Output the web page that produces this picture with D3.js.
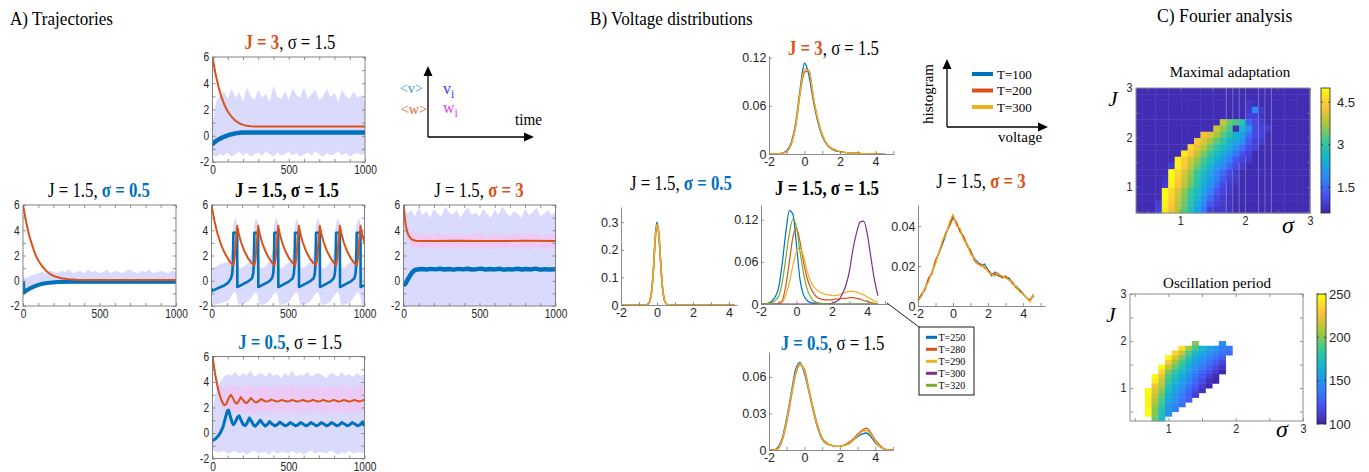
<!DOCTYPE html>
<html><head><meta charset="utf-8">
<script src="https://cdn.jsdelivr.net/npm/d3@7/dist/d3.min.js"></script>
<style>html,body{margin:0;padding:0;background:#fff;}svg{display:block;}</style>
</head><body>
<svg id="fig" width="1369" height="472" xmlns="http://www.w3.org/2000/svg"></svg>
<script>
// ======================= DATA =======================
// ---- Panel A: trajectories (time, value) ----
const trajTicksY = [-2, 0, 2, 4, 6];
const trajTicksX = [0, 500, 1000];
const trajMinorY = [-2, -1, 0, 1, 2, 3, 4, 5, 6];
const trajMinorX = [0, 100, 200, 300, 400, 500, 600, 700, 800, 900, 1000];
const bandT = [0,25,50,75,100,125,150,175,200,225,250,275,300,325,350,375,400,425,450,475,500,525,550,575,600,625,650,675,700,725,750,775,800,825,850,875,900,925,950,975,1000];

// J = 3, sigma = 1.5
const wJ3 = [[0,6],[20,4.7],[40,3.7],[60,2.9],[80,2.3],[100,1.85],[125,1.45],[150,1.15],[175,0.95],[200,0.83],[225,0.76],[250,0.72],[300,0.7],[1000,0.7]];
const vJ3 = [[0,-0.5],[3,-0.6],[25,-0.38],[50,-0.22],[75,-0.08],[100,0.03],[125,0.12],[150,0.18],[175,0.22],[200,0.24],[250,0.25],[1000,0.25]];
const hiJ3 = [1.0,2.6,3.1,3.4,2.8,3.6,2.9,3.3,2.6,3.7,3.0,2.7,3.5,2.9,3.2,2.6,3.8,3.0,2.8,3.4,2.7,3.6,3.1,2.9,3.7,2.8,3.2,3.5,2.7,3.0,3.6,2.9,3.3,2.6,3.5,3.0,2.8,3.4,2.9,3.1,2.5];
const loJ3 = [-1.5,-1.6,-1.4,-1.5,-1.3,-1.6,-1.4,-1.2,-1.5,-1.3,-1.6,-1.4,-1.3,-1.5,-1.2,-1.4,-1.6,-1.3,-1.5,-1.4,-1.2,-1.5,-1.3,-1.6,-1.4,-1.3,-1.5,-1.2,-1.4,-1.6,-1.3,-1.5,-1.4,-1.2,-1.5,-1.3,-1.6,-1.4,-1.3,-1.5,-1.3];

// J = 1.5, sigma = 0.5
const wS05 = [[0,6],[20,4.7],[40,3.6],[60,2.8],[80,2.1],[100,1.6],[125,1.15],[150,0.8],[175,0.55],[200,0.38],[250,0.2],[300,0.11],[350,0.07],[400,0.05],[500,0.05],[1000,0.05]];
const vS05 = [[0,-0.1],[3,-0.95],[25,-0.75],[50,-0.58],[75,-0.45],[100,-0.33],[135,-0.22],[175,-0.15],[225,-0.1],[300,-0.08],[1000,-0.08]];
const hiS05 = [0.3,0.2,0.4,0.5,0.6,0.7,0.6,0.8,0.7,0.6,0.8,0.7,0.9,0.6,0.7,0.8,0.6,0.9,0.7,0.8,0.6,0.7,0.9,0.6,0.8,0.7,0.6,0.8,0.9,0.7,0.6,0.8,0.7,0.9,0.6,0.7,0.8,0.7,0.6,0.8,0.7];
const loS05 = [-1.0,-1.0,-0.75,-0.6,-0.5,-0.4,-0.35,-0.3,-0.3,-0.25,-0.3,-0.25,-0.3,-0.25,-0.3,-0.25,-0.3,-0.25,-0.3,-0.25,-0.3,-0.25,-0.3,-0.25,-0.3,-0.25,-0.3,-0.25,-0.3,-0.25,-0.3,-0.25,-0.3,-0.25,-0.3,-0.25,-0.3,-0.25,-0.3,-0.25,-0.3];

// J = 1.5, sigma = 1.5 (oscillating)
const wMid = [[0,6],[20,4.7],[40,3.7],[60,2.95],[80,2.35],[100,1.9],[120,1.5],[143,1.2],[151,1.75],[158,2.9],[168,4.35],[178,3.75],[193,3.05],[213,2.4],[238,1.8],[263,1.4],[280,1.2],[288,1.75],[295,2.9],[305,4.35],[315,3.75],[330,3.05],[350,2.4],[375,1.8],[398,1.4],[411,1.2],[419,1.75],[426,2.9],[436,4.35],[446,3.75],[461,3.05],[481,2.4],[506,1.8],[531,1.4],[546,1.2],[554,1.75],[561,2.9],[571,4.35],[581,3.75],[596,3.05],[616,2.4],[641,1.8],[666,1.4],[683,1.2],[691,1.75],[698,2.9],[708,4.35],[718,3.75],[733,3.05],[753,2.4],[778,1.8],[801,1.4],[814,1.2],[822,1.75],[829,2.9],[839,4.35],[849,3.75],[864,3.05],[884,2.4],[909,1.8],[934,1.4],[949,1.2],[957,1.75],[964,2.9],[974,4.35],[984,3.75],[1000,3.0]];
const vMid = [[0,-0.6],[4,-0.8],[40,-0.6],[80,-0.4],[110,-0.15],[128,0.2],[136,0.6],[140,1.4],[143,3.8],[168,3.8],[169,-0.5],
  [200,-0.3],[240,-0.05],[265,0.2],[273,0.6],[277,1.4],[280,3.8],[305,3.8],[306,-0.5],
  [337,-0.3],[377,-0.05],[396,0.2],[404,0.6],[408,1.4],[411,3.8],[436,3.8],[437,-0.5],
  [468,-0.3],[508,-0.05],[531,0.2],[539,0.6],[543,1.4],[546,3.8],[571,3.8],[572,-0.5],
  [603,-0.3],[643,-0.05],[668,0.2],[676,0.6],[680,1.4],[683,3.8],[708,3.8],[709,-0.5],
  [740,-0.3],[780,-0.05],[799,0.2],[807,0.6],[811,1.4],[814,3.8],[839,3.8],[840,-0.5],
  [871,-0.3],[911,-0.05],[934,0.2],[942,0.6],[946,1.4],[949,3.8],[974,3.8],[975,-0.5],[1000,-0.35]];
const bandMid = [[0,-1.6,0.8],[10,-1.9,1.0],[30,-1.9,1.1],[55,-1.8,1.3],[80,-1.7,1.4],[108,-1.6,1.5],[125,-1.3,2.0],[135,-1.1,2.6],[141,-1.0,4.3],[150,-0.9,4.8],[160,-1.0,5.0],[166,-1.2,4.6],[170,-1.5,3.8],[175,-1.9,1.1],[195,-1.9,1.0],[220,-1.8,1.2],
  [245,-1.6,1.5],[262,-1.3,2.0],[272,-1.1,2.7],[278,-1.0,4.3],[287,-0.9,4.9],[297,-1.0,4.8],[303,-1.2,4.6],[307,-1.5,3.8],[312,-1.9,1.1],[332,-1.9,1.0],[357,-1.8,1.2],
  [376,-1.6,1.5],[393,-1.3,2.1],[403,-1.1,2.6],[409,-1.0,4.4],[418,-0.9,4.8],[428,-1.0,5.0],[434,-1.2,4.6],[438,-1.5,3.8],[443,-1.9,1.1],[463,-1.9,1.0],[488,-1.8,1.3],
  [511,-1.6,1.5],[528,-1.3,2.0],[538,-1.1,2.6],[544,-1.0,4.3],[553,-0.9,4.9],[563,-1.0,4.8],[569,-1.2,4.6],[573,-1.5,3.8],[578,-1.9,1.1],[598,-1.9,1.0],[623,-1.8,1.2],
  [648,-1.6,1.5],[665,-1.3,2.0],[675,-1.1,2.7],[681,-1.0,4.3],[690,-0.9,4.8],[700,-1.0,5.0],[706,-1.2,4.6],[710,-1.5,3.8],[715,-1.9,1.1],[735,-1.9,1.0],[760,-1.8,1.2],
  [779,-1.6,1.5],[796,-1.3,2.1],[806,-1.1,2.6],[812,-1.0,4.3],[821,-0.9,4.9],[831,-1.0,4.8],[837,-1.2,4.6],[841,-1.5,3.8],[846,-1.9,1.1],[866,-1.9,1.0],[891,-1.8,1.3],
  [914,-1.6,1.5],[931,-1.3,2.0],[941,-1.1,2.6],[947,-1.0,4.4],[956,-0.9,4.8],[966,-1.0,5.0],[972,-1.2,4.6],[976,-1.5,3.8],[981,-1.9,1.1],[1000,-1.9,1.0]];

// J = 1.5, sigma = 3
const wS3 = [[0,6],[8,5.0],[16,4.3],[25,3.85],[35,3.55],[48,3.35],[62,3.22],[80,3.17],[110,3.15],[200,3.14],[350,3.16],[500,3.14],[650,3.15],[800,3.16],[1000,3.15]];
const vS3 = [[0,-0.15],[6,-0.3],[15,-0.2],[30,0.15],[45,0.45],[60,0.7],[75,0.85],[93,0.9],[120,0.93],[150,0.89],[180,0.94],[210,0.9],[240,0.95],[270,0.89],[300,0.93],[330,0.88],[360,0.94],[390,0.9],[420,0.95],[450,0.89],[480,0.92],[510,0.96],[540,0.89],[570,0.93],[600,0.9],[630,0.95],[660,0.88],[690,0.92],[720,0.9],[750,0.95],[780,0.89],[810,0.93],[840,0.9],[870,0.96],[900,0.88],[930,0.92],[960,0.9],[1000,0.92]];
const hiS3 = [6.0,5.3,5.6,5.1,5.8,5.2,5.5,5.0,5.7,5.3,5.1,5.9,5.4,5.2,5.6,5.0,5.5,5.8,5.2,5.4,5.1,5.7,5.3,5.0,5.6,5.2,5.9,5.4,5.1,5.5,5.3,5.0,5.7,5.2,5.4,5.8,5.1,5.3,5.6,5.2,5.5];
const loS3 = [-2.2,-2.2,-2.1,-2.2,-2.2,-2.0,-2.2,-2.2,-2.1,-2.2,-2.2,-2.2,-2.0,-2.2,-2.1,-2.2,-2.2,-2.2,-2.1,-2.2,-2.0,-2.2,-2.2,-2.1,-2.2,-2.2,-2.2,-2.0,-2.2,-2.1,-2.2,-2.2,-2.2,-2.1,-2.2,-2.0,-2.2,-2.2,-2.1,-2.2,-2.2];
const hiWS3 = [6.0,4.3,3.8,3.7,3.6,3.8,3.6,3.7,3.5,3.8,3.6,3.7,3.6,3.5,3.8,3.6,3.7,3.5,3.6,3.8,3.6,3.7,3.5,3.6,3.8,3.6,3.7,3.6,3.5,3.7,3.8,3.6,3.5,3.7,3.6,3.8,3.6,3.5,3.7,3.6,3.7];
const loWS3 = [5.6,3.4,2.8,2.6,2.7,2.6,2.5,2.7,2.6,2.5,2.7,2.6,2.7,2.5,2.6,2.7,2.5,2.6,2.7,2.6,2.5,2.7,2.6,2.5,2.6,2.7,2.5,2.6,2.7,2.6,2.5,2.6,2.7,2.5,2.6,2.7,2.6,2.5,2.7,2.6,2.6];

// J = 0.5, sigma = 1.5
const wJ05 = [[0,6],[15,4.75],[30,3.8],[45,3.05],[60,2.55],[72,2.25],[80,2.17],[92,2.3],[105,2.7],[121,3.0],[135,2.72],[148,2.4],[160,2.3],[172,2.48],[186,2.82],[200,2.6],[213,2.4],[226,2.35],[238,2.5],[252,2.74],[266,2.58],[280,2.42],[292,2.4],[305,2.52],[320,2.67],[336,2.55],[352,2.46],[368,2.5],[388,2.62],[405,2.54],[422,2.47],[438,2.5],[456,2.6],[473,2.53],[490,2.47],[506,2.5],[524,2.6],[541,2.53],[558,2.47],[574,2.5],[592,2.6],[609,2.53],[626,2.47],[642,2.5],[660,2.6],[677,2.53],[694,2.47],[710,2.5],[728,2.6],[745,2.53],[762,2.47],[778,2.5],[796,2.6],[813,2.53],[830,2.47],[846,2.5],[864,2.6],[881,2.53],[898,2.47],[914,2.5],[932,2.6],[949,2.53],[966,2.47],[982,2.52],[1000,2.62]];
const vJ05 = [[0,-0.6],[20,-0.45],[40,-0.2],[55,0.1],[70,0.5],[85,1.2],[97,1.7],[105,1.8],[115,1.4],[128,0.85],[138,0.66],[150,0.85],[165,1.25],[175,1.35],[188,1.0],[202,0.65],[215,0.58],[228,0.8],[243,1.18],[258,0.9],[270,0.62],[281,0.53],[296,0.72],[314,1.0],[330,0.75],[346,0.55],[360,0.65],[375,0.9],[392,0.7],[410,0.56],[426,0.66],[443,0.85],[460,0.7],[478,0.56],[494,0.64],[511,0.82],[528,0.7],[546,0.56],[562,0.64],[579,0.82],[596,0.7],[614,0.56],[630,0.64],[647,0.82],[664,0.7],[682,0.56],[698,0.64],[715,0.82],[732,0.7],[750,0.56],[766,0.64],[783,0.82],[800,0.7],[818,0.56],[834,0.64],[851,0.82],[868,0.7],[886,0.56],[902,0.64],[919,0.82],[936,0.7],[954,0.56],[970,0.64],[987,0.85],[1000,0.55]];
const hiJ05 = [2.0,3.2,4.0,4.4,4.6,4.5,4.8,4.4,4.7,4.5,4.9,4.4,4.6,4.7,4.4,4.8,4.5,4.6,4.3,4.7,4.5,4.9,4.4,4.6,4.5,4.8,4.4,4.6,4.7,4.5,4.3,4.7,4.6,4.4,4.8,4.5,4.6,4.4,4.7,4.5,4.6];
const loJ05 = [-1.3,-1.5,-1.5,-1.4,-1.6,-1.5,-1.4,-1.6,-1.5,-1.7,-1.5,-1.4,-1.6,-1.5,-1.5,-1.7,-1.4,-1.6,-1.5,-1.5,-1.6,-1.4,-1.6,-1.5,-1.7,-1.5,-1.4,-1.6,-1.5,-1.5,-1.6,-1.4,-1.5,-1.7,-1.5,-1.6,-1.4,-1.6,-1.5,-1.5,-1.6];
const hiWJ05 = [6.0,4.6,3.6,3.5,3.7,3.6,3.8,3.5,3.7,3.6,3.9,3.5,3.7,3.6,3.8,3.5,3.6,3.8,3.5,3.7,3.6,3.9,3.5,3.7,3.6,3.8,3.5,3.6,3.7,3.5,3.8,3.6,3.7,3.5,3.8,3.6,3.7,3.5,3.6,3.8,3.6];
const loWJ05 = [5.6,3.6,2.4,1.6,1.5,1.7,1.6,1.7,1.5,1.6,1.7,1.5,1.6,1.7,1.5,1.6,1.7,1.5,1.6,1.7,1.5,1.6,1.7,1.5,1.6,1.7,1.5,1.6,1.7,1.5,1.6,1.7,1.5,1.6,1.7,1.5,1.6,1.7,1.5,1.6,1.7];

// ---- Panel B: voltage histograms ----
const distMinorX = [-2, -1, 0, 1, 2, 3, 4, 5];
const distTicksX = [-2, 0, 2, 4];
const vTop = [-2,-1.75,-1.5,-1.25,-1,-0.75,-0.5,-0.25,0,0.25,0.5,0.75,1,1.25,1.5,1.75,2,2.25,2.5,2.75,3,3.25,3.5,3.75,4,4.25,4.5];
const top100 = [0,0,0,0.001,0.004,0.014,0.038,0.08,0.113,0.098,0.066,0.04,0.022,0.012,0.007,0.004,0.003,0.002,0.0015,0.001,0.001,0.0005,0.0005,0,0,0,0];
const top200 = [0,0,0,0.001,0.003,0.012,0.034,0.075,0.102,0.104,0.07,0.043,0.024,0.013,0.007,0.005,0.003,0.002,0.0015,0.001,0.001,0.0005,0.0005,0,0,0,0];
const top300 = [0,0,0,0.001,0.003,0.012,0.035,0.076,0.106,0.103,0.071,0.043,0.024,0.013,0.008,0.005,0.003,0.002,0.0015,0.001,0.001,0.0005,0.0005,0,0,0,0];

const vS05d = [-2,-1,-0.6,-0.5,-0.4,-0.3,-0.2,-0.1,0,0.1,0.2,0.3,0.4,0.5,0.6,1,2,3,4,4.3];
const s05_100 = [0,0,0,0.003,0.015,0.05,0.13,0.245,0.3,0.255,0.155,0.065,0.02,0.005,0.001,0,0,0,0,0];
const s05_200 = [0,0,0,0.002,0.012,0.045,0.12,0.23,0.29,0.265,0.165,0.07,0.022,0.006,0.001,0,0,0,0,0];
const s05_300 = [0,0,0,0.002,0.013,0.046,0.122,0.235,0.292,0.262,0.16,0.068,0.021,0.005,0.001,0,0,0,0,0];

const vMidD = [-2,-1.8,-1.6,-1.4,-1.2,-1,-0.8,-0.6,-0.4,-0.2,0,0.2,0.4,0.6,0.8,1,1.2,1.4,1.6,1.8,2,2.2,2.4,2.6,2.8,3,3.2,3.4,3.6,3.8,4,4.2,4.4,4.6];
const mid250 = [0,0,0.001,0.004,0.01,0.024,0.058,0.102,0.133,0.128,0.085,0.035,0.013,0.005,0.002,0.001,0,0,0,0,0,0,0,0,0,0,0,0,0,0,0,0,0,0];
const mid280 = [0,0,0,0,0,0.001,0.005,0.026,0.06,0.095,0.108,0.089,0.06,0.037,0.023,0.014,0.009,0.007,0.006,0.006,0.006,0.007,0.007,0.008,0.008,0.009,0.009,0.008,0.007,0.005,0.004,0.002,0.001,0];
const mid290 = [0,0,0,0,0,0,0.002,0.013,0.03,0.055,0.074,0.08,0.068,0.047,0.032,0.024,0.019,0.016,0.014,0.013,0.012,0.012,0.013,0.015,0.017,0.018,0.018,0.017,0.015,0.013,0.01,0.007,0.004,0.003];
const mid300 = [0,0,0,0,0,0,0,0,0,0,0,0,0,0,0,0,0,0,0,0,0.001,0.003,0.006,0.015,0.027,0.048,0.079,0.102,0.117,0.118,0.1,0.067,0.035,0.012];
const mid320 = [0,0,0.001,0.002,0.005,0.011,0.031,0.065,0.1,0.121,0.11,0.075,0.044,0.022,0.01,0.004,0.002,0.001,0,0,0,0,0,0,0,0,0,0,0,0,0,0,0,0];

const vS3d = [-2,-1.8,-1.6,-1.4,-1.2,-1,-0.8,-0.6,-0.4,-0.2,0,0.2,0.4,0.6,0.8,1,1.2,1.4,1.6,1.8,2,2.2,2.4,2.6,2.8,3,3.2,3.4,3.6,3.8,4,4.2,4.4,4.6];
const s3_100 = [0.003,0.005,0.009,0.013,0.017,0.022,0.027,0.031,0.036,0.041,0.045,0.041,0.038,0.034,0.031,0.027,0.024,0.022,0.02,0.021,0.018,0.016,0.016,0.015,0.015,0.014,0.014,0.011,0.01,0.008,0.006,0.004,0.003,0.005];
const s3_200 = [0.003,0.006,0.008,0.014,0.016,0.023,0.026,0.032,0.037,0.04,0.044,0.042,0.037,0.035,0.03,0.028,0.023,0.021,0.021,0.019,0.018,0.015,0.017,0.016,0.014,0.015,0.013,0.012,0.009,0.008,0.006,0.004,0.003,0.006];
const s3_300 = [0.002,0.005,0.009,0.012,0.017,0.021,0.027,0.033,0.036,0.042,0.046,0.04,0.039,0.033,0.031,0.026,0.024,0.021,0.02,0.02,0.017,0.016,0.015,0.016,0.015,0.014,0.013,0.011,0.01,0.007,0.006,0.004,0.002,0.006];

const vBot = [-2,-1.75,-1.5,-1.25,-1,-0.75,-0.5,-0.25,0,0.25,0.5,0.75,1,1.25,1.5,1.75,2,2.25,2.5,2.75,3,3.25,3.5,3.75,4,4.25,4.5,4.75,5];
const bot100 = [0,0,0.002,0.01,0.026,0.046,0.066,0.072,0.063,0.048,0.032,0.018,0.009,0.005,0.004,0.003,0.003,0.004,0.005,0.008,0.011,0.013,0.014,0.011,0.006,0.003,0.001,0,0];
const bot200 = [0,0,0.001,0.008,0.023,0.043,0.062,0.07,0.066,0.05,0.034,0.02,0.01,0.006,0.004,0.003,0.003,0.004,0.006,0.009,0.013,0.016,0.018,0.014,0.008,0.004,0.001,0,0];
const bot300 = [0,0,0.001,0.009,0.024,0.044,0.063,0.071,0.065,0.049,0.033,0.019,0.01,0.005,0.004,0.003,0.003,0.004,0.005,0.008,0.012,0.015,0.016,0.013,0.007,0.003,0.001,0,0];

const legendT1 = ['T=100', 'T=200', 'T=300'];
const legendT2 = ['T=250', 'T=280', 'T=290', 'T=300', 'T=320'];

// ---- Panel C: Fourier analysis heat maps ----
// Maximal adaptation: 20 rows (top -> bottom) x 27 sigma columns
const adaptValues = [
 [.7,.7,.7,.7,.7,.7,.7,.7,.7, .7,.7,.7,.7,.7,.7,.7,.7,.7, .7,.7,.7,.7,.7,.7,.7,.7,.7],
 [.7,.7,.7,.7,.7,.7,.7,.7,.7, .7,.7,.7,.7,.7,.7,.7,.7,.7, .7,.7,.7,.7,.7,.7,.7,.7,.7],
 [.7,.7,.7,.7,.7,.7,.7,.7,.7, .7,.7,.7,.7,.7,.7,.7,.7,.85, .7,.7,.7,.7,.7,.7,.7,.7,.7],
 [.7,.7,.7,.7,.7,.7,.7,.7,.7, .7,.7,.7,.7,.7,.7,.7,.7,.9, 1.9,.9,.7,.7,.7,.7,.7,.7,.7],
 [.7,.7,.7,.7,.7,.7,.7,.7,.7, .7,.7,.7,.7,.7,.7,.7,.7,1.0, 1.0,.8,.7,.7,.7,.7,.7,.7,.7],
 [.7,.7,.7,.7,.7,.7,.7,.7,.7, .7,.7,.7,.7,3.9,3.4,3.2,2.9,1.4, 1.1,.9,.7,.7,.7,.7,.7,.7,.7],
 [.7,.7,.7,.7,.7,.7,.7,.7,.7, .7,.7,.7,4.0,3.6,3.2,.7,2.6,2.0, 1.1,1.0,.9,.7,.7,.7,.7,.7,.7],
 [.7,.7,.7,.7,.7,.7,.7,.7,.7, .7,4.3,4.1,3.7,3.3,2.9,2.5,2.2,1.6, 1.1,1.0,.7,.7,.7,.7,.7,.7,.7],
 [.7,.7,.7,.7,.7,.7,.7,.7,.7, 4.4,4.1,3.7,3.3,3.0,2.6,2.3,2.0,1.3, 1.0,.9,.7,.7,.7,.7,.7,.7,.7],
 [.7,.7,.7,.7,.7,.7,.7,.7,4.6, 4.2,3.8,3.4,3.0,2.7,2.4,2.0,1.6,1.1, 1.0,.7,.7,.7,.7,.7,.7,.7,.7],
 [.7,.7,.7,.7,.7,.7,.7,4.8,4.4, 3.9,3.5,3.1,2.7,2.4,2.1,1.7,1.2,1.0, .7,.7,.7,.7,.7,.7,.7,.7,.7],
 [.7,.7,.7,.7,.7,.7,4.9,4.5,4.0, 3.6,3.2,2.8,2.5,2.1,1.8,1.3,1.0,.9, .7,.7,.7,.7,.7,.7,.7,.7,.7],
 [.7,.7,.7,.7,.7,.9,4.9,4.4,3.9, 3.4,3.0,2.6,2.2,1.9,1.5,1.1,.9,.7, .7,.7,.7,.7,.7,.7,.7,.7,.7],
 [.7,.7,.7,.7,.7,5.0,4.6,4.1,3.6, 3.1,2.7,2.3,1.9,1.5,1.1,.9,.7,.7, .7,.7,.7,.7,.7,.7,.7,.7,.7],
 [.7,.7,.7,.7,.8,5.0,4.5,4.0,3.5, 3.0,2.6,2.2,1.8,1.3,1.0,.9,.7,.7, .7,.7,.7,.7,.7,.7,.7,.7,.7],
 [.7,.7,.7,.7,.9,4.9,4.4,3.9,3.4, 2.9,2.5,2.0,1.6,1.1,.9,.8,.7,.7, .7,.7,.7,.7,.7,.7,.7,.7,.7],
 [.7,.7,.7,.7,5.0,4.6,4.1,3.6,3.1, 2.7,2.3,1.8,1.3,1.0,.9,.7,.7,.7, .7,.7,.7,.7,.7,.7,.7,.7,.7],
 [.7,.7,.7,.7,5.0,4.5,4.0,3.5,3.0, 2.6,2.1,1.6,1.1,.9,.8,.7,.7,.7, .7,.7,.7,.7,.7,.7,.7,.7,.7],
 [.7,.7,.7,.9,4.9,4.4,3.9,3.4,2.9, 2.4,1.9,1.3,1.0,.9,.8,.7,.7,.7, .7,.7,.7,.7,.7,.7,.7,.7,.7],
 [.7,.7,.7,1.0,4.8,4.3,3.8,3.3,2.8, 2.3,1.7,1.0,.9,.9,.8,.7,.7,.7, .7,.7,.7,.7,.7,.7,.7,.7,.7]
];
const adaptStreakCols = [14, 15, 16, 17, 19, 20, 21];
const adaptCbTicks = [1.5, 3, 4.5];

// Oscillation period: rows J (top -> bottom) x columns sigma
const periodSigma = [0.7,0.8,0.9,1.0,1.1,1.2,1.3,1.4,1.5,1.6,1.7,1.8,1.9];
const periodJ = [1.95,1.85,1.75,1.65,1.55,1.45,1.35,1.25,1.15,1.05,0.95,0.85,0.75,0.65,0.55,0.45,0.35];
const N = null;
const periodValues = [
 [N,N,N,N,N,N,N,200,N,N,N,148,N],
 [N,N,N,N,N,240,205,188,170,158,150,140,138],
 [N,N,N,N,235,215,190,172,160,150,142,134,132],
 [N,N,N,250,220,200,178,162,150,142,135,126,N],
 [N,N,N,230,205,188,170,155,144,135,126,116,N],
 [N,N,250,215,195,178,162,148,138,128,118,108,N],
 [N,N,235,200,183,170,155,142,130,120,110,102,N],
 [N,250,225,190,175,162,148,136,124,112,104,N,N],
 [N,245,215,185,168,156,142,130,118,106,100,N,N],
 [N,225,210,178,162,150,137,124,112,102,N,N,N],
 [250,220,200,172,157,145,132,118,106,N,N,N,N],
 [250,215,195,166,152,140,128,112,N,N,N,N,N],
 [245,210,190,160,147,136,125,N,N,N,N,N,N],
 [245,205,185,155,143,132,N,N,N,N,N,N,N],
 [250,200,180,152,140,N,N,N,N,N,N,N,N],
 [250,200,175,148,N,N,N,N,N,N,N,N,N],
 [N,195,172,N,N,N,N,N,N,N,N,N,N]
];
const periodCbTicks = [100, 150, 200, 250];
const heatTicks = [0.5, 1, 1.5, 2, 2.5, 3];
const heatLabels = [1, 2, 3];

// ======================= DRAWING =======================
const svg = d3.select('#fig');
const SERIF = "'Liberation Serif','Times New Roman',Times,serif";
const SANS = "'Liberation Sans',Arial,Helvetica,sans-serif";
const C_BLUE = '#0072BD', C_ORANGE = '#D95319', C_YELLOW = '#EDB120', C_PURPLE = '#7E2F8E', C_GREEN = '#77AC30';
const LAV = '#dadafd', PINK = '#f7c2f0';
const AX = '#767676', TXT = '#262626';
const PARULA = ['#3e26a8','#4852f4','#2d87f7','#12b1d6','#37c897','#abc739','#fec338','#f9fb14'];
const parula = d3.piecewise(d3.interpolateRgb, PARULA);

function rich(parent, x, y, parts, size, sx, anchor) {
  const t = parent.append('text')
    .attr('transform', `translate(${x},${y}) scale(${sx},1)`)
    .attr('text-anchor', anchor || 'middle')
    .attr('font-family', SERIF).attr('font-size', size);
  parts.forEach(p => t.append('tspan').text(p.t)
    .attr('font-weight', p.b ? 'bold' : 'normal').attr('fill', p.c || '#000'));
  return t;
}
function titleParts(J, s, hi, col) {
  if (hi === 'J') return [{t: `J = ${J}`, b: 1, c: col}, {t: `, σ = ${s}`}];
  if (hi === 's') return [{t: `J = ${J}, `}, {t: `σ = ${s}`, b: 1, c: col}];
  return [{t: `J = ${J}, σ = ${s}`, b: 1}];
}
function styleAxis(sel, fs, sx, keepDomain, domCol) {
  if (keepDomain) sel.select('.domain').attr('stroke', domCol).attr('stroke-width', 1);
  else sel.select('.domain').remove();
  sel.selectAll('.tick line').attr('stroke', AX).attr('stroke-width', 0.8);
  const tx = sel.selectAll('.tick text').attr('font-family', SANS).attr('font-size', fs).attr('fill', TXT);
  if (sx && sx !== 1) tx.attr('transform', `scale(${sx},1)`);
}
const zipBand = (t, lo, hi) => t.map((v, i) => ({t: v, lo: lo[i], hi: hi[i]}));

// ---------- Panel headers ----------
rich(svg, 10, 25, [{t: 'A) Trajectories'}], 19, 0.9, 'start');
rich(svg, 590, 25, [{t: 'B) Voltage distributions'}], 19, 0.9, 'start');
rich(svg, 1157, 22, [{t: 'C) Fourier analysis'}], 19, 0.93, 'start');

// ---------- Panel A ----------
function trajPlot(cfg) {
  const {id, X, Y, W, H} = cfg;
  const g = svg.append('g').attr('transform', `translate(${X},${Y})`);
  const x = d3.scaleLinear().domain([0, 1000]).range([0, W]);
  const y = d3.scaleLinear().domain([-2, 6]).range([H, 0]);
  g.append('clipPath').attr('id', id).append('rect').attr('width', W).attr('height', H);
  const body = g.append('g').attr('clip-path', `url(#${id})`);
  const area = d3.area().x(d => x(d.t)).y0(d => y(d.lo)).y1(d => y(d.hi));
  (cfg.bands || []).forEach(b => body.append('path').datum(b.pts).attr('d', area)
    .attr('fill', b.color).attr('opacity', b.op || 1));
  const line = d3.line().x(d => x(d[0])).y(d => y(d[1]));
  body.append('path').datum(cfg.v).attr('d', line).attr('fill', 'none')
    .attr('stroke', C_BLUE).attr('stroke-width', cfg.vw).attr('stroke-linejoin', 'round');
  body.append('path').datum(cfg.w).attr('d', line).attr('fill', 'none')
    .attr('stroke', C_ORANGE).attr('stroke-width', 2).attr('stroke-linejoin', 'round');
  const ya = g.append('g').call(d3.axisLeft(y).tickValues(trajMinorY).tickSize(-3).tickSizeOuter(0).tickPadding(4)
    .tickFormat(v => trajTicksY.includes(v) ? String(v) : ''));
  styleAxis(ya, 12, 0.85);
  const xa = g.append('g').attr('transform', `translate(0,${H})`).call(d3.axisBottom(x).tickValues(trajMinorX)
    .tickSize(-3).tickSizeOuter(0).tickPadding(3.5).tickFormat(v => trajTicksX.includes(v) ? String(v) : ''));
  styleAxis(xa, 12, 0.85);
  const ra = g.append('g').attr('transform', `translate(${W},0)`).call(d3.axisRight(y).tickValues(trajMinorY).tickSize(-3).tickSizeOuter(0).tickFormat(''));
  styleAxis(ra, 12, 1);
  const ta = g.append('g').call(d3.axisTop(x).tickValues(trajMinorX).tickSize(-3).tickSizeOuter(0).tickFormat(''));
  styleAxis(ta, 12, 1);
  g.append('rect').attr('width', W).attr('height', H).attr('fill', 'none').attr('stroke', AX).attr('stroke-width', 0.9);
  rich(svg, cfg.tx, cfg.ty, cfg.title, 21, 0.8);
}

trajPlot({id: 'cJ3', X: 212.5, Y: 57, W: 152.5, H: 105, w: wJ3, v: vJ3, vw: 4.5,
  bands: [{pts: zipBand(bandT, loJ3, hiJ3), color: LAV}],
  tx: 290, ty: 49, title: titleParts('3', '1.5', 'J', C_ORANGE)});
trajPlot({id: 'cS05', X: 23, Y: 205, W: 153, H: 101, w: wS05, v: vS05, vw: 4,
  bands: [{pts: zipBand(bandT, loS05, hiS05), color: LAV}],
  tx: 99, ty: 197, title: titleParts('1.5', '0.5', 's', C_BLUE)});
trajPlot({id: 'cMid', X: 211.5, Y: 205, W: 153, H: 101, w: wMid, v: vMid, vw: 2.6,
  bands: [{pts: bandMid.map(d => ({t: d[0], lo: d[1], hi: d[2]})), color: LAV}],
  tx: 287, ty: 197, title: titleParts('1.5', '1.5', 'both')});
trajPlot({id: 'cS3', X: 403.5, Y: 205, W: 152, H: 101, w: wS3, v: vS3, vw: 4.5,
  bands: [{pts: zipBand(bandT, loS3, hiS3), color: LAV}, {pts: zipBand(bandT, loWS3, hiWS3), color: PINK, op: 0.75}],
  tx: 479, ty: 197, title: titleParts('1.5', '3', 's', C_ORANGE)});
trajPlot({id: 'cJ05', X: 212.5, Y: 356.5, W: 152, H: 102, w: wJ05, v: vJ05, vw: 3,
  bands: [{pts: zipBand(bandT, loJ05, hiJ05), color: LAV}, {pts: zipBand(bandT, loWJ05, hiWJ05), color: PINK, op: 0.6}],
  tx: 290, ty: 349, title: titleParts('0.5', '1.5', 'J', C_BLUE)});

// arrow-diagram legend (A)
function arrowAxes(ox, oy, tipY, tipX) {
  const g = svg.append('g');
  g.append('line').attr('x1', ox).attr('y1', oy).attr('x2', ox).attr('y2', tipY + 8).attr('stroke', '#000').attr('stroke-width', 1.3);
  g.append('line').attr('x1', ox).attr('y1', oy).attr('x2', tipX - 8).attr('y2', oy).attr('stroke', '#000').attr('stroke-width', 1.3);
  g.append('path').attr('d', `M${ox},${tipY} L${ox - 4.5},${tipY + 10} L${ox + 4.5},${tipY + 10} Z`).attr('fill', '#000');
  g.append('path').attr('d', `M${tipX},${oy} L${tipX - 10},${oy - 4.5} L${tipX - 10},${oy + 4.5} Z`).attr('fill', '#000');
  return g;
}
arrowAxes(428, 137, 66, 534);
rich(svg, 423, 93, [{t: '<v>', c: '#3a93d6'}], 15, 0.95, 'end');
rich(svg, 427, 114, [{t: '<w>', c: '#e0632c'}], 15, 0.95, 'end');
{
  const t1 = svg.append('text').attr('x', 443).attr('y', 94).attr('font-family', SERIF).attr('font-size', 16).attr('fill', '#3c3cf2');
  t1.append('tspan').text('v');
  t1.append('tspan').text('i').attr('font-size', 12).attr('dy', 4);
  const t2 = svg.append('text').attr('x', 443).attr('y', 113).attr('font-family', SERIF).attr('font-size', 16).attr('fill', '#e03ee6');
  t2.append('tspan').text('w');
  t2.append('tspan').text('i').attr('font-size', 12).attr('dy', 4);
}
rich(svg, 515, 125, [{t: 'time'}], 16, 0.95, 'start');

// ---------- Panel B ----------
function distPlot(cfg) {
  const {X, Y, W, H, xd, yd, yt} = cfg;
  const g = svg.append('g').attr('transform', `translate(${X},${Y})`);
  const x = d3.scaleLinear().domain(xd).range([0, W]);
  const y = d3.scaleLinear().domain(yd).range([H, 0]);
  const line = d3.line().curve(cfg.curve).x(d => x(d[0])).y(d => y(d[1]));
  cfg.series.forEach(s => g.append('path').datum(s.y.map((v, i) => [s.x[i], v])).attr('d', line)
    .attr('fill', 'none').attr('stroke', s.c).attr('stroke-width', cfg.lw).attr('stroke-linejoin', 'round'));
  const xa = g.append('g').attr('transform', `translate(0,${H})`).call(d3.axisBottom(x)
    .tickValues(distMinorX.filter(v => v <= xd[1])).tickSize(-3).tickSizeOuter(0).tickPadding(3.5)
    .tickFormat(v => distTicksX.includes(v) ? String(v) : ''));
  styleAxis(xa, 12.5, 1, true, '#8a8a8a');
  const ya = g.append('g').call(d3.axisLeft(y).tickValues(yt).tickSize(-3).tickSizeOuter(0).tickPadding(2.5)
    .tickFormat(v => String(v)));
  styleAxis(ya, 12.5, 1, true, '#8a8a8a');
  rich(svg, cfg.tx, cfg.ty, cfg.title, 21, 0.8);
  return {g, x, y};
}
distPlot({X: 769, Y: 56, W: 125, H: 98, xd: [-2, 5.04], yd: [0, 0.122], yt: [0, 0.06, 0.12], lw: 1.4,
  curve: d3.curveMonotoneX,
  series: [{x: vTop, y: top100, c: C_BLUE}, {x: vTop, y: top200, c: C_ORANGE}, {x: vTop, y: top300, c: C_YELLOW}],
  tx: 833.5, ty: 55, title: titleParts('3', '1.5', 'J', C_ORANGE)});
distPlot({X: 621, Y: 207, W: 116, H: 98, xd: [-2, 4.45], yd: [0, 0.355], yt: [0, 0.1, 0.2, 0.3], lw: 1.5,
  curve: d3.curveMonotoneX,
  series: [{x: vS05d, y: s05_100, c: C_BLUE}, {x: vS05d, y: s05_200, c: C_ORANGE}, {x: vS05d, y: s05_300, c: C_YELLOW}],
  tx: 681, ty: 190, title: titleParts('1.5', '0.5', 's', C_BLUE)});
distPlot({X: 761, Y: 205, W: 127, H: 99, xd: [-2, 5.17], yd: [0, 0.141], yt: [0, 0.06, 0.12], lw: 1.2,
  curve: d3.curveMonotoneX,
  series: [{x: vMidD, y: mid250, c: C_BLUE}, {x: vMidD, y: mid280, c: C_ORANGE}, {x: vMidD, y: mid290, c: C_YELLOW},
           {x: vMidD, y: mid300, c: C_PURPLE}, {x: vMidD, y: mid320, c: C_GREEN}],
  tx: 827, ty: 195, title: titleParts('1.5', '1.5', 'both')});
distPlot({X: 918, Y: 205, W: 127, H: 101, xd: [-2, 5.25], yd: [0, 0.0505], yt: [0, 0.02, 0.04], lw: 1.3,
  curve: d3.curveLinear,
  series: [{x: vS3d, y: s3_100, c: C_BLUE}, {x: vS3d, y: s3_200, c: C_ORANGE}, {x: vS3d, y: s3_300, c: C_YELLOW}],
  tx: 981, ty: 188, title: titleParts('1.5', '3', 's', C_ORANGE)});
distPlot({X: 769, Y: 352, W: 124, H: 98, xd: [-2, 5.0], yd: [0, 0.0805], yt: [0, 0.03, 0.06], lw: 1.4,
  curve: d3.curveMonotoneX,
  series: [{x: vBot, y: bot100, c: C_BLUE}, {x: vBot, y: bot200, c: C_ORANGE}, {x: vBot, y: bot300, c: C_YELLOW}],
  tx: 832.5, ty: 350, title: titleParts('0.5', '1.5', 'J', C_BLUE)});

// B legend (T=100..300) with arrow axes
arrowAxes(947, 127, 59, 1048);
svg.append('text').attr('transform', 'translate(933,94) rotate(-90)').attr('text-anchor', 'middle')
  .attr('font-family', SERIF).attr('font-size', 15).text('histogram');
rich(svg, 1020, 142, [{t: 'voltage'}], 15, 1, 'middle');
[C_BLUE, C_ORANGE, C_YELLOW].forEach((c, i) => {
  const yy = [74, 90.5, 107][i];
  svg.append('line').attr('x1', 972).attr('x2', 993).attr('y1', yy).attr('y2', yy).attr('stroke', c).attr('stroke-width', 4);
  svg.append('text').attr('x', 997).attr('y', yy + 4.5).attr('font-family', SERIF).attr('font-size', 13).text(legendT1[i]);
});
// B legend box for middle histogram
svg.append('line').attr('x1', 887).attr('y1', 303).attr('x2', 919).attr('y2', 327).attr('stroke', '#000').attr('stroke-width', 0.9);
svg.append('rect').attr('x', 919).attr('y', 327).attr('width', 55).attr('height', 68).attr('fill', '#fff').attr('stroke', '#000').attr('stroke-width', 0.9);
[C_BLUE, C_ORANGE, C_YELLOW, C_PURPLE, C_GREEN].forEach((c, i) => {
  const yy = 337.3 + i * 12;
  svg.append('line').attr('x1', 926).attr('x2', 937).attr('y1', yy).attr('y2', yy).attr('stroke', c).attr('stroke-width', 3);
  svg.append('text').attr('x', 938.5).attr('y', yy + 3.5).attr('font-family', SERIF).attr('font-size', 10).text(legendT2[i]);
});

// ---------- Panel C ----------
const defs = svg.append('defs');
const grad = defs.append('linearGradient').attr('id', 'parulaGrad').attr('x1', 0).attr('y1', 1).attr('x2', 0).attr('y2', 0);
PARULA.forEach((c, i) => grad.append('stop').attr('offset', i / (PARULA.length - 1)).attr('stop-color', c));

function heatFrame(g, x, y, X0, X1, Y0, Y1) {
  const la = g.append('g').attr('transform', `translate(${X0},0)`).call(d3.axisLeft(y).tickValues(heatTicks).tickSize(-3).tickSizeOuter(0).tickPadding(4)
    .tickFormat(v => heatLabels.includes(v) ? String(v) : ''));
  styleAxis(la, 12, 0.9);
  const ba = g.append('g').attr('transform', `translate(0,${Y1})`).call(d3.axisBottom(x).tickValues(heatTicks.filter(v => v >= x.domain()[0])).tickSize(-3).tickSizeOuter(0).tickPadding(3)
    .tickFormat(v => heatLabels.includes(v) ? String(v) : ''));
  styleAxis(ba, 12, 0.9);
  const ra = g.append('g').attr('transform', `translate(${X1},0)`).call(d3.axisRight(y).tickValues(heatTicks).tickSize(-3).tickSizeOuter(0).tickFormat(''));
  styleAxis(ra, 12, 1);
  const ta = g.append('g').attr('transform', `translate(0,${Y0})`).call(d3.axisTop(x).tickValues(heatTicks.filter(v => v >= x.domain()[0])).tickSize(-3).tickSizeOuter(0).tickFormat(''));
  styleAxis(ta, 12, 1);
  g.append('rect').attr('x', X0).attr('y', Y0).attr('width', X1 - X0).attr('height', Y1 - Y0)
    .attr('fill', 'none').attr('stroke', '#8c8c8c').attr('stroke-width', 1);
}
function colorbar(g, X, Y, W, H, dom, ticks, lx) {
  const s = d3.scaleLinear().domain(dom).range([Y + H, Y]);
  g.append('rect').attr('x', X).attr('y', Y).attr('width', W).attr('height', H).attr('fill', 'url(#parulaGrad)')
    .attr('stroke', '#262626').attr('stroke-width', 0.8);
  ticks.forEach(t => {
    g.append('line').attr('x1', X).attr('x2', X + 2).attr('y1', s(t)).attr('y2', s(t)).attr('stroke', '#262626').attr('stroke-width', 0.7);
    g.append('line').attr('x1', X + W - 2).attr('x2', X + W).attr('y1', s(t)).attr('y2', s(t)).attr('stroke', '#262626').attr('stroke-width', 0.7);
    g.append('text').attr('x', lx).attr('y', s(t)).attr('dy', '0.35em').attr('font-family', SANS).attr('font-size', 13)
      .attr('fill', TXT).text(String(t));
  });
}

// Heat map 1: maximal adaptation
{
  const g = svg.append('g');
  const X0 = 1136, X1 = 1310, Y0 = 88, Y1 = 213;
  const xb = d3.scaleBand().domain(d3.range(adaptValues[0].length)).range([X0, X1]);
  const yb = d3.scaleBand().domain(d3.range(adaptValues.length)).range([Y0, Y1]);
  const col = d3.scaleSequential(parula).domain([0.6, 5.0]).clamp(true);
  adaptValues.forEach((row, r) => row.forEach((v, c) => {
    g.append('rect').attr('x', xb(c)).attr('y', yb(r)).attr('width', xb.bandwidth() + 0.4).attr('height', yb.bandwidth() + 0.4)
      .attr('fill', col(v));
  }));
  // faint streaks between dark (low-value) columns only
  adaptStreakCols.forEach(c => adaptValues.forEach((row, r) => {
    if (row[c] < 1.2 && row[c - 1] < 1.2) {
      g.append('line').attr('x1', xb(c)).attr('x2', xb(c)).attr('y1', yb(r)).attr('y2', yb(r) + yb.bandwidth())
        .attr('stroke', '#c4c4d4').attr('stroke-width', 0.8).attr('opacity', 0.5);
    }
  }));
  const x = d3.scaleLinear().domain([0.32, 3.0]).range([X0, X1]);
  const y = d3.scaleLinear().domain([0.47, 3.0]).range([Y1, Y0]);
  heatFrame(g, x, y, X0, X1, Y0, Y1);
  colorbar(g, 1321, 88, 9, 125, [0.6, 5.0], adaptCbTicks, 1337);
  rich(svg, 1230, 77, [{t: 'Maximal adaptation'}], 15, 1);
  svg.append('text').attr('x', 1113).attr('y', 106).attr('text-anchor', 'middle').attr('font-family', SERIF)
    .attr('font-style', 'italic').attr('font-size', 21).text('J');
  svg.append('text').attr('x', 1288).attr('y', 233).attr('text-anchor', 'middle').attr('font-family', SERIF)
    .attr('font-style', 'italic').attr('font-size', 24).text('σ');
}

// Heat map 2: oscillation period
{
  const g = svg.append('g');
  const X0 = 1130, X1 = 1303, Y0 = 294, Y1 = 421;
  const x = d3.scaleLinear().domain([0.43, 3.0]).range([X0, X1]);
  const y = d3.scaleLinear().domain([0.3, 3.0]).range([Y1, Y0]);
  const col = d3.scaleSequential(parula).domain([100, 250]).clamp(true);
  periodValues.forEach((row, r) => row.forEach((v, c) => {
    if (v === null) return;
    const s = periodSigma[c], j = periodJ[r];
    g.append('rect').attr('x', x(s - 0.05)).attr('y', y(j + 0.05))
      .attr('width', x(s + 0.05) - x(s - 0.05) + 0.4).attr('height', y(j - 0.05) - y(j + 0.05) + 0.4)
      .attr('fill', col(v));
  }));
  heatFrame(g, x, y, X0, X1, Y0, Y1);
  colorbar(g, 1317, 294, 9, 130, [100, 250], periodCbTicks, 1329);
  rich(svg, 1217, 288, [{t: 'Oscillation period'}], 15, 1);
  svg.append('text').attr('x', 1111).attr('y', 322).attr('text-anchor', 'middle').attr('font-family', SERIF)
    .attr('font-style', 'italic').attr('font-size', 21).text('J');
  svg.append('text').attr('x', 1282).attr('y', 437).attr('text-anchor', 'middle').attr('font-family', SERIF)
    .attr('font-style', 'italic').attr('font-size', 24).text('σ');
}
</script>
</body></html>
